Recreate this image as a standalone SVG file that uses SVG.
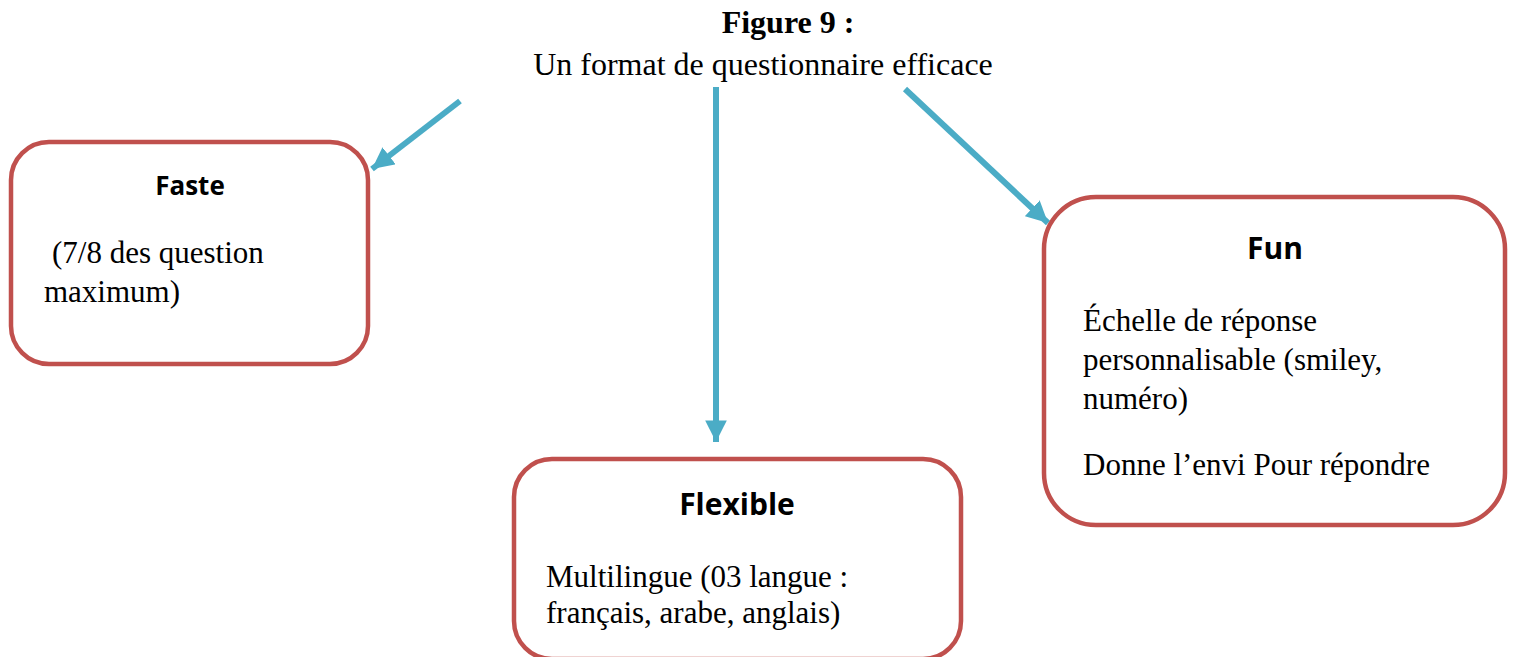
<svg xmlns="http://www.w3.org/2000/svg" width="1515" height="657" viewBox="0 0 1515 657">
<defs>
<style>
.box{fill:#fff;stroke:#C0504D;stroke-width:4.5}
.conn{stroke:#4BACC6;stroke-width:6;fill:none}
.head{fill:#4BACC6}
.ttl{font-family:"Liberation Serif",serif;font-size:32px;fill:#000}
.hd{font-family:"Open Sans","Noto Sans",sans-serif;font-weight:bold;fill:#000;text-anchor:middle}
.bd{font-family:"Liberation Serif",serif;font-size:31px;fill:#000}
</style>
<marker id="ah" viewBox="0 0 10 10" refX="10" refY="5" markerWidth="3.6" markerHeight="3.6" orient="auto" markerUnits="strokeWidth">
<path d="M0,0 L10,5 L0,10 z" class="head"/>
</marker>
</defs>
<rect width="1515" height="657" fill="#fff"/>
<g id="title">
<text class="ttl" x="788" y="33" text-anchor="middle" font-weight="bold">Figure 9 :</text>
<text class="ttl" x="763" y="75" text-anchor="middle">Un format de questionnaire efficace</text>
</g>
<g id="connectors">
<line class="conn" x1="460" y1="101" x2="372" y2="169" marker-end="url(#ah)"/>
<line class="conn" x1="716" y1="87" x2="716" y2="442" marker-end="url(#ah)"/>
<line class="conn" x1="905" y1="89" x2="1048" y2="223" marker-end="url(#ah)"/>
</g>
<g id="faste">
<rect class="box" x="11" y="142" width="357" height="222" rx="38" ry="38"/>
<text class="hd" x="190" y="195" font-size="26">Faste</text>
<text class="bd" x="52" y="263">(7/8 des question</text>
<text class="bd" x="44" y="302">maximum)</text>
</g>
<g id="flexible">
<rect class="box" x="514" y="459" width="447" height="200" rx="38" ry="38"/>
<text class="hd" x="737" y="515" font-size="30">Flexible</text>
<text class="bd" x="546" y="587">Multilingue (03 langue :</text>
<text class="bd" x="546" y="623">français, arabe, anglais)</text>
</g>
<g id="fun">
<rect class="box" x="1044" y="197" width="461" height="328" rx="52" ry="52"/>
<text class="hd" x="1275" y="259" font-size="30">Fun</text>
<text class="bd" x="1083" y="331">Échelle de réponse</text>
<text class="bd" x="1083" y="370">personnalisable (smiley,</text>
<text class="bd" x="1083" y="409">numéro)</text>
<text class="bd" x="1083" y="475">Donne l’envi Pour répondre</text>
</g>
</svg>
